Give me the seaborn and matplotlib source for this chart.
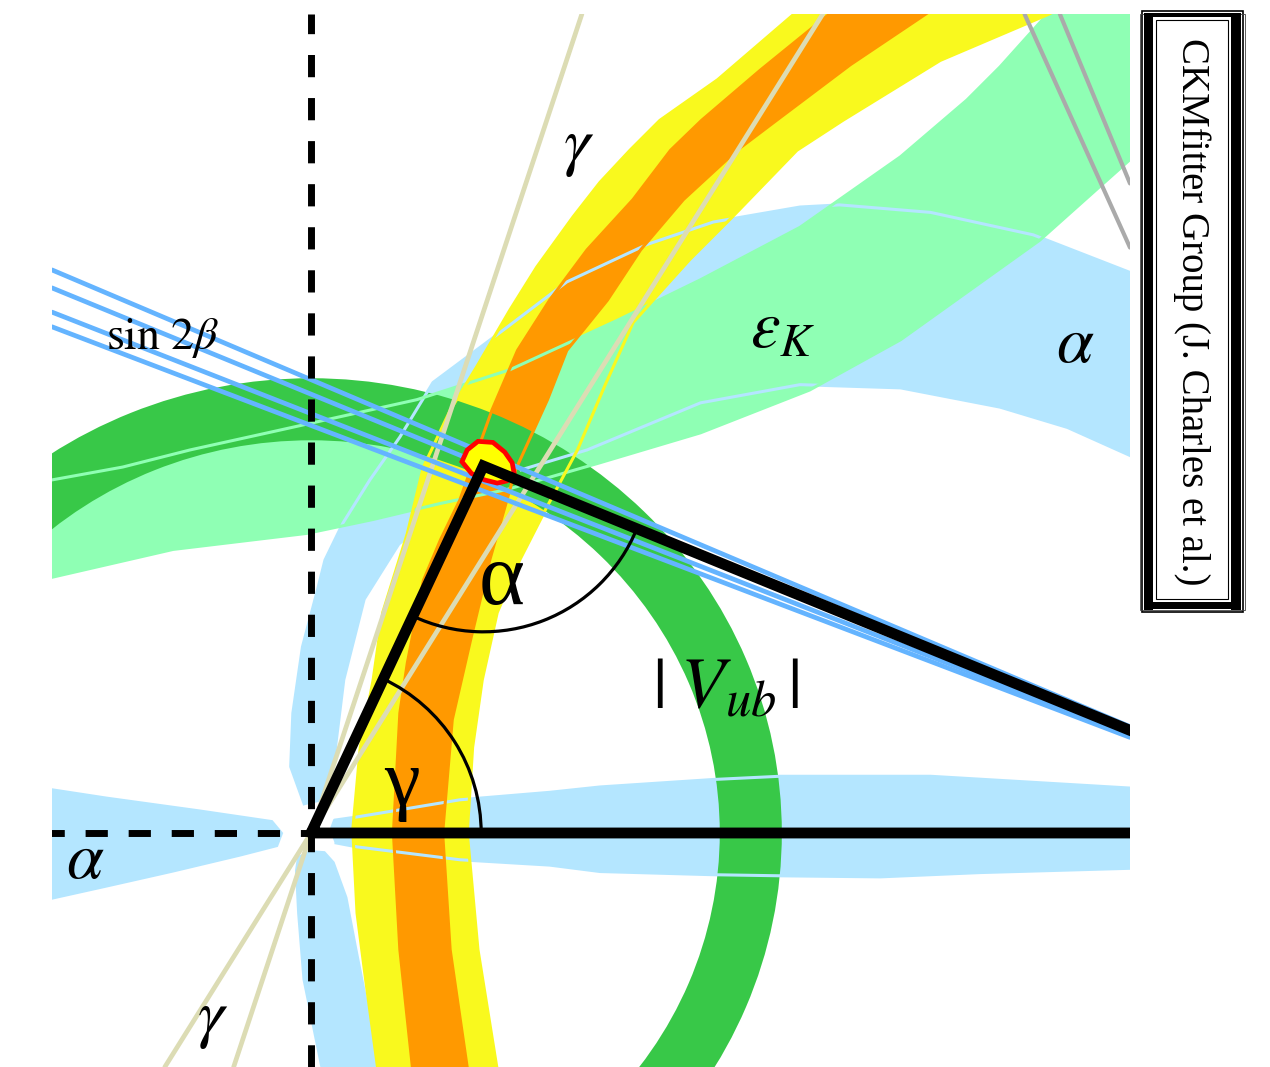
import matplotlib
matplotlib.use("Agg")
import matplotlib.pyplot as plt
from matplotlib.patches import Annulus, Arc, Rectangle
import numpy as np
import seaborn as sns

sns.set_theme(style="white")
plt.rcParams["font.family"] = ["Liberation Serif", "DejaVu Serif"]
plt.rcParams["mathtext.fontset"] = "stix"

# ---------------------------------------------------------------- data
# apex of the unitarity triangle in the (rho_bar, eta_bar) plane
apex_rho, apex_eta = 0.161, 0.343

# sin 2beta: four boundary lines through (1, 0), angle beta in degrees
sin2beta_beta_deg = [20.85, 21.4, 22.3, 22.96]

# gamma: lines through the origin, angle in degrees
gamma_angle_deg = [71.7, 58.0]

# grey lines in the upper right corner (two points each)
grey_line_a = [(0.667, 0.765), (0.765, 0.548)]
grey_line_b = [(0.700, 0.765), (0.765, 0.608)]

# |Vub| ring: outer semi-axes and thickness
vub_outer = (0.440, 0.425)
vub_width = 0.058

# epsilon_K band boundaries
epsk_upper = [(-0.272, 0.327), (-0.242, 0.330), (-0.176, 0.342), (-0.113, 0.358),
              (-0.036, 0.375), (0.027, 0.389), (0.099, 0.405), (0.186, 0.433),
              (0.286, 0.479), (0.364, 0.517), (0.457, 0.566), (0.551, 0.632),
              (0.613, 0.685), (0.644, 0.716), (0.688, 0.765), (0.714, 0.793)]
epsk_lower = [(0.831, 0.793), (0.812, 0.685), (0.765, 0.629), (0.681, 0.554),
              (0.551, 0.461), (0.466, 0.414), (0.364, 0.374), (0.270, 0.346),
              (0.183, 0.321), (0.121, 0.308), (0.058, 0.293), (-0.004, 0.280),
              (-0.129, 0.265), (-0.242, 0.239), (-0.272, 0.234)]

# Delta m (yellow) band boundaries
dm_yellow_left = [(0.065, -0.240), (0.051, -0.137), (0.043, -0.075), (0.039, 0.003),
                  (0.046, 0.080), (0.058, 0.143), (0.067, 0.206), (0.090, 0.280),
                  (0.105, 0.342), (0.130, 0.395), (0.155, 0.436), (0.186, 0.489),
                  (0.211, 0.529), (0.245, 0.576), (0.270, 0.608), (0.298, 0.638),
                  (0.326, 0.666), (0.380, 0.704), (0.451, 0.765), (0.485, 0.793)]
dm_yellow_right = [(0.177, -0.240), (0.156, -0.109), (0.146, 0.000), (0.151, 0.080),
                   (0.160, 0.143), (0.174, 0.206), (0.195, 0.255), (0.219, 0.302),
                   (0.249, 0.358), (0.275, 0.419), (0.301, 0.477), (0.326, 0.505),
                   (0.354, 0.536), (0.394, 0.576), (0.454, 0.638), (0.497, 0.666),
                   (0.588, 0.722), (0.689, 0.765), (0.733, 0.788)]

# Delta m (orange) band boundaries
dm_orange_left = [(0.097, -0.240), (0.083, -0.109), (0.077, 0.000), (0.083, 0.112),
                  (0.090, 0.159), (0.105, 0.236), (0.121, 0.274), (0.139, 0.311),
                  (0.169, 0.395), (0.193, 0.451), (0.223, 0.498), (0.258, 0.545),
                  (0.301, 0.592), (0.336, 0.638), (0.365, 0.666), (0.420, 0.713),
                  (0.484, 0.765), (0.513, 0.788)]
dm_orange_right = [(0.149, -0.240), (0.130, -0.109), (0.123, 0.000), (0.132, 0.106),
                   (0.149, 0.180), (0.167, 0.255), (0.191, 0.339), (0.221, 0.405),
                   (0.239, 0.451), (0.277, 0.498), (0.308, 0.545), (0.348, 0.592),
                   (0.398, 0.638), (0.435, 0.666), (0.504, 0.718), (0.574, 0.765),
                   (0.607, 0.788)]

# alpha regions
alpha_main_upper = [(-0.006, 0.026), (-0.019, 0.062), (-0.017, 0.112), (-0.008, 0.174),
                    (0.006, 0.227), (0.013, 0.255), (0.030, 0.290), (0.055, 0.330),
                    (0.083, 0.370), (0.114, 0.421), (0.177, 0.468), (0.239, 0.515),
                    (0.314, 0.550), (0.376, 0.571), (0.457, 0.585), (0.494, 0.587),
                    (0.579, 0.580), (0.675, 0.559), (0.765, 0.524), (0.794, 0.509)]
alpha_main_lower = [(0.794, 0.339), (0.765, 0.353), (0.707, 0.379), (0.644, 0.398),
                    (0.551, 0.416), (0.457, 0.419), (0.364, 0.402), (0.258, 0.358),
                    (0.195, 0.339), (0.130, 0.307), (0.083, 0.269), (0.051, 0.218),
                    (0.032, 0.143), (0.024, 0.078), (0.016, 0.031)]
alpha_base_upper = [(0.018, 0.001), (0.022, 0.012), (0.043, 0.015), (0.139, 0.031),
                    (0.223, 0.038), (0.270, 0.043), (0.376, 0.050), (0.438, 0.053),
                    (0.579, 0.053), (0.765, 0.042), (0.794, 0.041)]
alpha_base_lower = [(0.794, -0.033), (0.765, -0.033), (0.625, -0.037), (0.532, -0.041),
                    (0.438, -0.040), (0.376, -0.039), (0.270, -0.036), (0.223, -0.030),
                    (0.139, -0.025), (0.043, -0.013), (0.022, -0.009)]
alpha_below = [(-0.001, -0.016), (-0.013, -0.022), (-0.015, -0.035), (-0.013, -0.075),
               (-0.008, -0.137), (0.013, -0.240), (0.065, -0.240), (0.055, -0.168),
               (0.043, -0.107), (0.034, -0.060), (0.022, -0.027), (0.013, -0.017)]
alpha_left = [(-0.263, 0.045), (-0.191, 0.034), (-0.104, 0.022), (-0.036, 0.012),
              (-0.026, 0.000), (-0.031, -0.013), (-0.066, -0.022), (-0.129, -0.037),
              (-0.191, -0.051), (-0.263, -0.067)]

# global fit contour around the apex
fit_contour = [(0.141, 0.347), (0.146, 0.358), (0.156, 0.366), (0.170, 0.365),
               (0.181, 0.356), (0.188, 0.346), (0.190, 0.335), (0.183, 0.329),
               (0.174, 0.327), (0.162, 0.330), (0.150, 0.336)]

# ---------------------------------------------------------------- colours
C_ALPHA = "#b4e6ff"
C_EPSK = "#8fffb4"
C_YELLOW = "#f9f91e"
C_ORANGE = "#ff9900"
C_VUB = "#38c848"
C_SIN2B = "#64b4ff"
C_GAMMA = "#dcdcb4"
C_GREY = "#aaaaaa"


def xs(pts):
    return [p[0] for p in pts]


def ys(pts):
    return [p[1] for p in pts]


fig = plt.figure(figsize=(12.7, 10.67), dpi=100)
ax = fig.add_axes([52 / 1270, 0.0, 1078 / 1270, 1053 / 1067])
ax.set_xlim(-0.2421, 0.7654)
ax.set_ylim(-0.2187, 0.7654)
ax.axis("off")

# alpha fills
for region in (alpha_main_upper + alpha_main_lower,
               alpha_base_upper + alpha_base_lower,
               alpha_below, alpha_left):
    ax.fill(xs(region), ys(region), color=C_ALPHA, lw=0, zorder=1)

# Delta m (yellow), right half sits below epsilon_K, left half above
yellow_right_half = dm_orange_left + dm_yellow_right[::-1]
yellow_left_half = dm_yellow_left + dm_orange_right[::-1]
ax.fill(xs(yellow_right_half), ys(yellow_right_half), color=C_YELLOW, lw=0, zorder=2)

# epsilon_K
epsk = epsk_upper + epsk_lower
ax.fill(xs(epsk), ys(epsk), color=C_EPSK, lw=0, zorder=3)

ax.fill(xs(yellow_left_half), ys(yellow_left_half), color=C_YELLOW, lw=0, zorder=4)

# Delta m (orange)
orange = dm_orange_left + dm_orange_right[::-1]
ax.fill(xs(orange), ys(orange), color=C_ORANGE, lw=0, zorder=5)

# |Vub| ring
ax.add_patch(Annulus((0, 0), vub_outer, vub_width, color=C_VUB, lw=0, zorder=6))

# contour edges shown through the overlapping regions
edge_kw = dict(lw=2.2, zorder=7, solid_capstyle="butt")
for edge in (alpha_main_upper, alpha_main_lower[:9], alpha_base_upper, alpha_base_lower):
    ax.plot(xs(edge), ys(edge), color=C_ALPHA, **edge_kw)
for edge in (epsk_upper, epsk_lower):
    ax.plot(xs(edge), ys(edge), color=C_EPSK, **edge_kw)
for edge in (dm_yellow_left, dm_yellow_right):
    ax.plot(xs(edge), ys(edge), color=C_YELLOW, **edge_kw)
for edge in (dm_orange_left, dm_orange_right):
    ax.plot(xs(edge), ys(edge), color=C_ORANGE, **edge_kw)

# gamma lines through the origin
for ang in gamma_angle_deg:
    ax.axline((0, 0), slope=np.tan(np.radians(ang)), color=C_GAMMA, lw=3.4, zorder=8)

# grey lines
for line in (grey_line_a, grey_line_b):
    ax.axline(line[0], line[1], color=C_GREY, lw=3.0, zorder=8)

# sin 2beta lines through (1, 0)
for b in sin2beta_beta_deg:
    ax.axline((1, 0), slope=-np.tan(np.radians(b)), color=C_SIN2B, lw=3.4, zorder=9)

# global fit contour
ax.fill(xs(fit_contour), ys(fit_contour), facecolor="#ffff00", edgecolor="#ff0000",
        lw=3.4, zorder=10)

# coordinate axes (dashed)
dash = (0, (3.2, 3.0))
ax.axvline(0, color="black", lw=5.0, ls=dash, zorder=11)
ax.plot([-0.3, 0], [0, 0], color="black", lw=5.0, ls=dash, zorder=11)

# unitarity triangle
sns.lineplot(x=[0, apex_rho, 1.0, 0], y=[0, apex_eta, 0.0, 0], sort=False,
             estimator=None, color="black", lw=7.8, ax=ax, zorder=12)
for ln in ax.lines[-1:]:
    ln.set_solid_joinstyle("miter")

# angle arcs
gamma_deg = np.degrees(np.arctan2(apex_eta, apex_rho))
to_origin = np.degrees(np.arctan2(-apex_eta, -apex_rho)) % 360
to_one = np.degrees(np.arctan2(-apex_eta, 1 - apex_rho)) % 360
ax.add_patch(Arc((apex_rho, apex_eta), 2 * 0.155, 2 * 0.155, theta1=to_origin,
                 theta2=to_one, color="black", lw=2.3, zorder=12))
ax.add_patch(Arc((0, 0), 2 * 0.159, 2 * 0.159, theta1=0, theta2=gamma_deg,
                 color="black", lw=2.3, zorder=12))

# labels
lab = dict(ha="center", va="center", color="black", zorder=13)
ax.text(-0.139, 0.463, r"$\sin\,2\beta$", fontsize=33, **lab)
ax.text(0.441, 0.470, r"$\varepsilon_K$", fontsize=48, **lab)
ax.text(0.714, 0.456, r"$\alpha$", fontsize=48, **lab)
ax.text(-0.211, -0.027, r"$\alpha$", fontsize=48, **lab)
ax.text(0.250, 0.640, r"$\gamma$", fontsize=48, **lab)
ax.text(-0.092, -0.175, r"$\gamma$", fontsize=48, **lab)
ax.text(0.387, 0.134, r"$|\;V_{ub}\,|$", fontsize=52, **lab)
ax.text(0.178, 0.234, "α", fontsize=63, **lab)
ax.text(0.085, 0.044, "γ", fontsize=58, **lab)

# CKMfitter stamp
W, H = 1270.0, 1067.0


def frect(x0, y0, x1, y1, **kw):
    fig.add_artist(Rectangle((x0 / W, 1 - y1 / H), (x1 - x0) / W, (y1 - y0) / H,
                             transform=fig.transFigure, **kw))


frect(1142, 11, 1243, 612, fill=False, edgecolor="black", lw=1.2)
frect(1140, 14, 1245, 610, fill=False, edgecolor="#444444", lw=0.6)
frect(1144, 13, 1153, 610, facecolor="black", lw=0)
frect(1231, 13, 1241, 610, facecolor="black", lw=0)
frect(1144, 13, 1241, 17, facecolor="black", lw=0)
frect(1144, 602, 1241, 609, facecolor="black", lw=0)
frect(1156, 20, 1228, 599, fill=False, edgecolor="black", lw=0.8)
fig.text(1192 / W, 1 - 312 / H, "CKMfitter Group (J. Charles et al.)", rotation=-90,
         ha="center", va="center", fontsize=28, color="black")

fig.savefig("out.png", dpi=100, facecolor="white")
